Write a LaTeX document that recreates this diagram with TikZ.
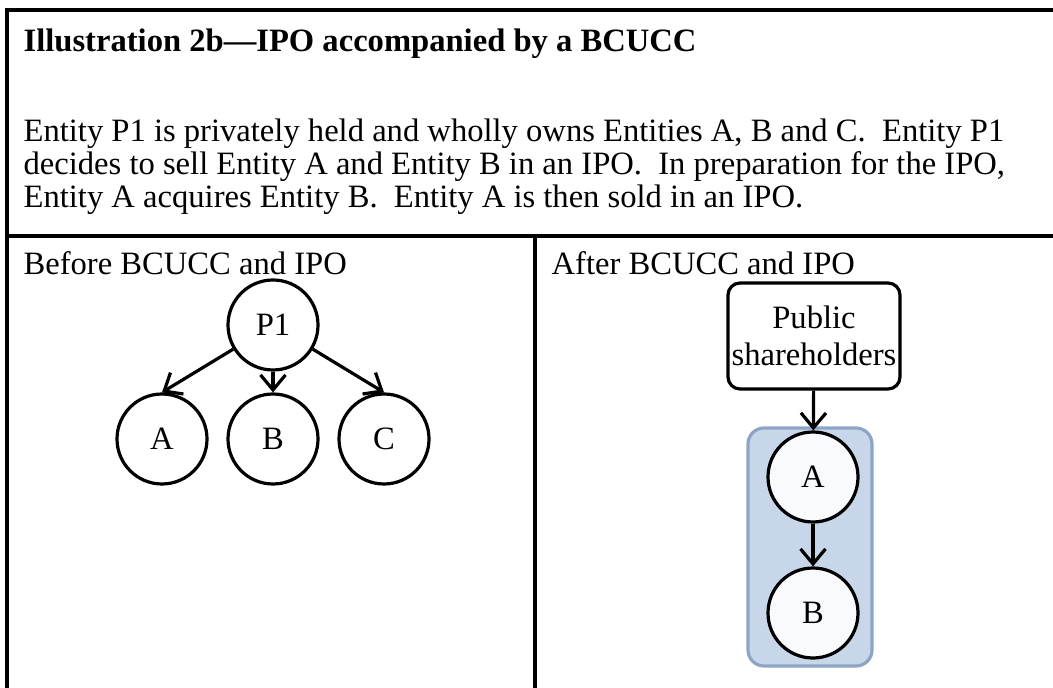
\documentclass[tikz,border=0pt]{standalone}
\usepackage{fontspec}
\setmainfont{Liberation Serif}
\usepackage{xcolor}
\usetikzlibrary{positioning,arrows.meta}
\definecolor{grpfill}{HTML}{C8D6EA}
\definecolor{grpline}{HTML}{8DA5C4}
\definecolor{entfill}{HTML}{F8FAFD}

\begin{document}
\begin{tikzpicture}[x=0.5pt,y=-0.5pt,line width=1.6pt,
    every node/.style={font=\fontsize{16.3}{16.5}\selectfont},
    ent/.style={circle,draw,line width=1.6pt,minimum size=45pt,inner sep=0pt},
    arr/.style={-{Straight Barb[length=7.5pt,width=12.5pt]}}]
    \useasboundingbox (0,0) rectangle (1053,688);
    \draw (1053,10) -- (7,10) -- (7,688);
    \draw (7,236) -- (1053,236);
    \draw (535,236) -- (535,688);
    \node[anchor=base west,inner sep=0pt,font=\fontsize{16.3}{16.5}\selectfont\bfseries] (title) at (22,52) {Illustration 2b---IPO accompanied by a BCUCC};
    \node[anchor=base west,align=left,inner sep=0pt] (desc) at (22,208) {Entity P1 is privately held and wholly owns Entities A, B and C.\ \ Entity P1\\decides to sell Entity A and Entity B in an IPO.\ \ In preparation for the IPO,\\Entity A acquires Entity B.\ \ Entity A is then sold in an IPO.};
    \node[anchor=base west,inner sep=0pt] (before) at (22,275) {Before BCUCC and IPO};
    \node[anchor=base west,inner sep=0pt] (after) at (550,275) {After BCUCC and IPO};
    \node[ent] (P1) at (273,325) {P1};
    \node[ent,below of=P1,node distance=57pt] (B) {B};
    \node[ent,left of=B,node distance=55.5pt] (A) {A};
    \node[ent,right of=B,node distance=55.5pt] (C) {C};
    \draw[arr] (P1) -- (A.north);
    \draw[arr] (P1) -- (B);
    \draw[arr] (P1) -- (C.north);
    \draw[fill=grpfill,draw=grpline,rounded corners=8pt] (748,428) rectangle (872,666);
    \node[draw,rounded corners=6pt,align=center,minimum width=86pt,minimum height=53pt,inner sep=1pt] (pub) at (814,336) {Public\\[2pt]shareholders};
    \node[ent,fill=entfill] (A2) at (813,477) {A};
    \node[ent,fill=entfill,below of=A2,node distance=68pt] (B2) {B};
    \draw[arr] (pub) -- (A2);
    \draw[arr] (A2) -- (B2);
  \end{tikzpicture}
\end{document}
